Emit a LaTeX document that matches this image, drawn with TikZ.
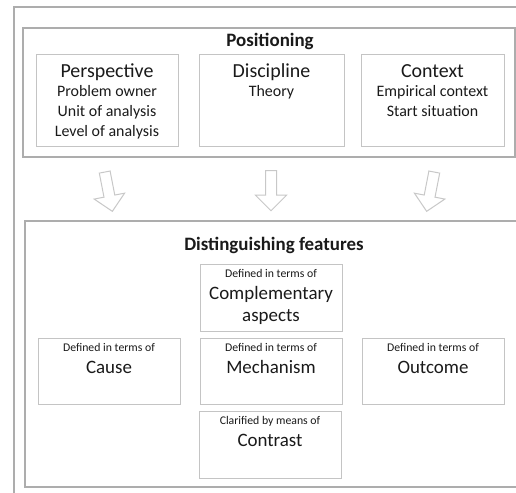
\documentclass[tikz,border=0pt]{standalone}
\usepackage{fontspec}
\setmainfont{Carlito}
\usetikzlibrary{shapes.arrows}
\definecolor{boxgray}{HTML}{C4C4C4}
\definecolor{framegray}{HTML}{ADADAD}
\definecolor{arrowgray}{HTML}{C8C8C8}
\definecolor{txt}{HTML}{1A1A1A}
\begin{document}
\begin{tikzpicture}[x=1bp,y=-1bp,
  box/.style={draw=boxgray,line width=1bp,inner sep=0pt,outer sep=0pt,anchor=north west,fill=white},
  frame/.style={draw=framegray,line width=1.2bp,inner sep=0pt,outer sep=0pt,anchor=north west},
  title/.style={font=\fontsize{19}{22}\selectfont\bfseries,anchor=base,text=txt,inner sep=0pt},
  head/.style={font=\fontsize{20}{24}\selectfont,anchor=base,text=txt,inner sep=0pt},
  sub/.style={font=\fontsize{16}{20}\selectfont,anchor=base,text=txt,inner sep=0pt},
  big/.style={font=\fontsize{19}{22}\selectfont,anchor=base,text=txt,inner sep=0pt},
  small/.style={font=\fontsize{11.8}{14}\selectfont,anchor=base,text=txt,inner sep=0pt},
  blockarrow/.style={shape=single arrow,draw=arrowgray,line width=1bp,fill=white,
    minimum height=40bp,minimum width=30bp,single arrow head extend=10bp,
    inner sep=5bp,single arrow tip angle=90}]
\useasboundingbox (0,0) rectangle (516,493);
\clip (0,0) rectangle (516,493);
\fill[white] (0,0) rectangle (516,493);

% outer frame
\node[frame,minimum width=540bp,minimum height=520bp] (outer) at (14,7) {};

% Positioning
\node[frame,minimum width=492bp,minimum height=129bp] (pos) at (23,28) {};
\node[title] (postitle) at (270,47) {Positioning};

\node[box,minimum width=142bp,minimum height=91bp] (persp) at (36,55) {};
\node[head] (perspT) at (107,77.3) {Perspective};
\node[sub] (persp1) at (107,96.7) {Problem owner};
\node[sub] (persp2) at (107,116.7) {Unit of analysis};
\node[sub] (persp3) at (107,136.7) {Level of analysis};

\node[box,minimum width=145bp,minimum height=91bp] (disc) at (199,55) {};
\node[head] (discT) at (271.5,77.3) {Discipline};
\node[sub] (disc1) at (271.5,96.7) {Theory};

\node[box,minimum width=143bp,minimum height=91bp] (ctx) at (361,55) {};
\node[head] (ctxT) at (432.5,77.3) {Context};
\node[sub] (ctx1) at (432.5,96.7) {Empirical context};
\node[sub] (ctx2) at (432.5,116.7) {Start situation};

% arrows
\node[blockarrow,rotate=-79] (arrL) at (108,189) {};
\node[blockarrow,rotate=-90] (arrM) at (271,188) {};
\node[blockarrow,rotate=-101] (arrR) at (431,189) {};

% Distinguishing features
\node[frame,minimum width=520bp,minimum height=266bp] (dist) at (25,221) {};
\node[title] (disttitle) at (274,250) {Distinguishing features};

\node[box,minimum width=142bp,minimum height=67bp] (comp) at (200,264) {};
\node[small] (comp0) at (271,277.3) {Defined in terms of};
\node[big] (comp1) at (271,299.3) {Complementary};
\node[big] (comp2) at (271,321.5) {aspects};

\node[box,minimum width=142bp,minimum height=66bp] (cause) at (38,338) {};
\node[small] (cause0) at (109,351) {Defined in terms of};
\node[big] (cause1) at (109,373.3) {Cause};

\node[box,minimum width=142bp,minimum height=66bp] (mech) at (200,338) {};
\node[small] (mech0) at (271,351) {Defined in terms of};
\node[big] (mech1) at (271,373.3) {Mechanism};

\node[box,minimum width=142bp,minimum height=66bp] (outc) at (362,338) {};
\node[small] (outc0) at (433,351) {Defined in terms of};
\node[big] (outc1) at (433,373.3) {Outcome};

\node[box,minimum width=142bp,minimum height=67bp] (contr) at (199,411) {};
\node[small] (contr0) at (270,424.3) {Clarified by means of};
\node[big] (contr1) at (270,446) {Contrast};
\end{tikzpicture}
\end{document}
